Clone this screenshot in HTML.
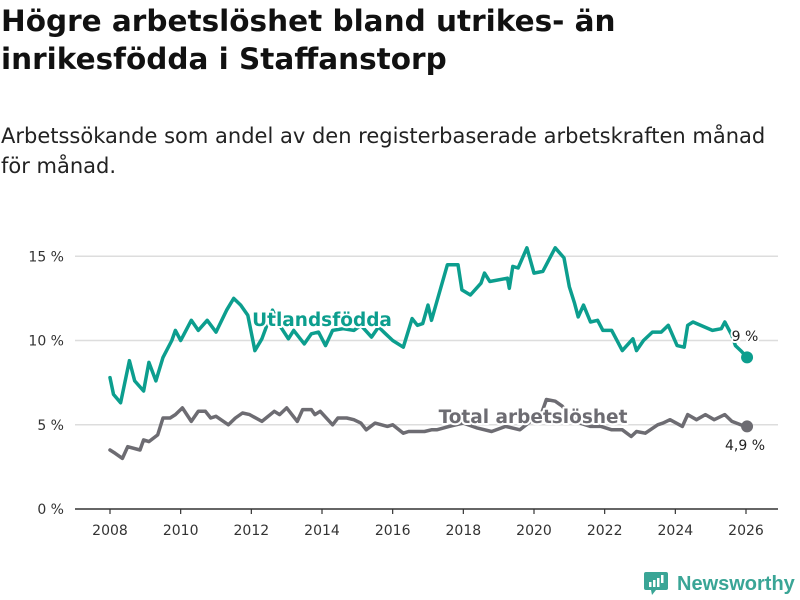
<!DOCTYPE html>
<html><head><meta charset="utf-8"><style>
body{margin:0;background:#fff;font-family:"DejaVu Sans",sans-serif;}
#wrap{position:relative;width:800px;height:600px;overflow:hidden;}
h1{position:absolute;left:1px;top:2px;margin:0;font-size:29.5px;line-height:38px;font-weight:bold;color:#111;}
#sub{position:absolute;left:1px;top:121px;margin:0;font-size:21px;line-height:30px;color:#222;}
svg{position:absolute;left:0;top:0;}
</style></head><body>
<div id="wrap">
<h1>Högre arbetslöshet bland utrikes- än<br>inrikesfödda i Staffanstorp</h1>
<p id="sub">Arbetssökande som andel av den registerbaserade arbetskraften månad<br>för månad.</p>
<svg id="chart" width="800" height="600"></svg>
</div>
<script>
const yTicks=[0,5,10,15];
const yTickLabels=["0 %","5 %","10 %","15 %"];
const xTicks=[2008,2010,2012,2014,2016,2018,2020,2022,2024,2026];
const foreignT=[2008.0,2008.1,2008.3,2008.55,2008.7,2008.95,2009.1,2009.3,2009.5,2009.75,2009.85,2010.0,2010.1,2010.3,2010.5,2010.75,2011.0,2011.3,2011.5,2011.7,2011.9,2012.1,2012.3,2012.6,2012.8,2013.05,2013.2,2013.5,2013.7,2013.9,2014.1,2014.3,2014.6,2014.9,2015.1,2015.4,2015.6,2015.8,2016.0,2016.3,2016.55,2016.7,2016.85,2017.0,2017.1,2017.25,2017.55,2017.85,2017.96,2018.2,2018.5,2018.6,2018.75,2019.25,2019.3,2019.4,2019.55,2019.8,2020.0,2020.25,2020.4,2020.6,2020.85,2021.0,2021.15,2021.25,2021.4,2021.6,2021.8,2021.95,2022.2,2022.5,2022.8,2022.9,2023.1,2023.35,2023.6,2023.8,2024.05,2024.25,2024.35,2024.5,2025.05,2025.3,2025.4,2025.6,2025.7,2025.85,2026.03];
const foreignV=[7.8,6.8,6.3,8.8,7.6,7.0,8.7,7.6,9.0,10.0,10.6,10.0,10.4,11.2,10.6,11.2,10.5,11.8,12.5,12.1,11.5,9.4,10.1,11.8,10.9,10.1,10.6,9.8,10.4,10.5,9.7,10.6,10.7,10.6,10.9,10.2,10.8,10.4,10.0,9.6,11.3,10.9,11.0,12.1,11.2,12.3,14.5,14.5,13.0,12.7,13.4,14.0,13.5,13.7,13.1,14.4,14.3,15.5,14.0,14.1,14.7,15.5,14.9,13.2,12.2,11.4,12.1,11.1,11.2,10.6,10.6,9.4,10.1,9.4,10.0,10.5,10.5,10.9,9.7,9.6,10.9,11.1,10.6,10.7,11.1,10.3,9.7,9.4,9.0];
const totalT=[2008.0,2008.15,2008.35,2008.5,2008.85,2008.95,2009.1,2009.35,2009.5,2009.7,2009.85,2010.05,2010.3,2010.5,2010.7,2010.85,2011.0,2011.35,2011.55,2011.75,2011.95,2012.3,2012.65,2012.8,2013.0,2013.3,2013.45,2013.7,2013.8,2013.95,2014.3,2014.45,2014.7,2014.9,2015.1,2015.25,2015.5,2015.85,2016.0,2016.3,2016.45,2016.9,2017.1,2017.25,2017.6,2018.0,2018.4,2018.8,2019.2,2019.6,2019.9,2020.2,2020.35,2020.6,2020.8,2021.0,2021.3,2021.6,2021.9,2022.2,2022.5,2022.75,2022.9,2023.15,2023.5,2023.65,2023.85,2024.2,2024.35,2024.6,2024.85,2025.1,2025.4,2025.6,2025.85,2026.03];
const totalV=[3.5,3.3,3.0,3.7,3.5,4.1,4.0,4.4,5.4,5.4,5.6,6.0,5.2,5.8,5.8,5.4,5.5,5.0,5.4,5.7,5.6,5.2,5.8,5.6,6.0,5.2,5.9,5.9,5.6,5.8,5.0,5.4,5.4,5.3,5.1,4.7,5.1,4.9,5.0,4.5,4.6,4.6,4.7,4.7,4.9,5.1,4.8,4.6,4.9,4.7,5.2,5.6,6.5,6.4,6.1,5.6,5.1,4.9,4.9,4.7,4.7,4.3,4.6,4.5,5.0,5.1,5.3,4.9,5.6,5.3,5.6,5.3,5.6,5.2,5.0,4.9];

const svg=document.getElementById('chart');
const NS='http://www.w3.org/2000/svg';
const FF='DejaVu Sans, sans-serif';
const X0=110,X1=746,Y0=509,YPER=16.85;
function xs(t){return X0+(t-2008)*(X1-X0)/18;}
function ys(v){return Y0-v*YPER;}
function mk(tag,attrs,parent){const e=document.createElementNS(NS,tag);for(const k in attrs)e.setAttribute(k,attrs[k]);(parent||svg).appendChild(e);return e;}

yTicks.forEach((v,i)=>{
  if(v>0){const g=mk('line',{x1:75,x2:778,y1:ys(v),y2:ys(v),stroke:'#dddddd','stroke-width':1.5});
  
  }
  const t=mk('text',{x:64,y:ys(v)+5,'text-anchor':'end','font-size':14,fill:'#333','font-family':FF});
  t.textContent=yTickLabels[i];
  
  
});
const ax=mk('line',{x1:75,x2:778,y1:Y0,y2:Y0,stroke:'#333','stroke-width':1.5});


xTicks.forEach(yr=>{
  const tk=mk('line',{x1:xs(yr),x2:xs(yr),y1:Y0,y2:Y0+5,stroke:'#333','stroke-width':1.2});
  
  
  const t=mk('text',{x:xs(yr),y:535,'text-anchor':'middle','font-size':14,fill:'#333','font-family':FF});
  t.textContent=yr;
  
  
});
function line(T,V,color,name){
  const d=T.map((t,i)=>(i?'L':'M')+xs(t).toFixed(1)+','+ys(V[i]).toFixed(1)).join('');
  const p=mk('path',{d:d,fill:'none',stroke:color,'stroke-width':3.5,'stroke-linejoin':'round','stroke-linecap':'round'});
  
  
  const n=T.length-1;
  const c=mk('circle',{cx:xs(T[n]),cy:ys(V[n]),r:6,fill:color});
  
  
}
line(totalT,totalV,'#6d6c72','total-line');
line(foreignT,foreignV,'#0c9e8e','foreign-born-line');
function label(x,y,txt,color,size,weight,anchor,name){
  const t=mk('text',{x:x,y:y,'text-anchor':anchor,'font-size':size,'font-weight':weight,fill:color,stroke:'#fff','stroke-width':4,'paint-order':'stroke','stroke-linejoin':'round','font-family':FF});
  t.textContent=txt;
  
  
}
label(322,326,'Utlandsfödda','#0c9e8e',18.5,'bold','middle','foreign-born-label');
label(533,423,'Total arbetslöshet','#6d6c72',18.5,'bold','middle','total-label');
label(745,341,'9 %','#222',14,'normal','middle','foreign-born-value-label');
label(745,450,'4,9 %','#222',14,'normal','middle','total-value-label');

const lg=mk('g',{});


mk('path',{d:'M646,572 h20 a2,2 0 0 1 2,2 v14 a2,2 0 0 1 -2,2 h-10 l-4,5 l-1,-5 h-5 a2,2 0 0 1 -2,-2 v-14 a2,2 0 0 1 2,-2z',fill:'#3aa596'},lg);
mk('rect',{x:649,y:582,width:2.5,height:5,fill:'#fff'},lg);
mk('rect',{x:653,y:580,width:2.5,height:7,fill:'#fff'},lg);
mk('rect',{x:657,y:578,width:2.5,height:9,fill:'#fff'},lg);
mk('rect',{x:661,y:575,width:2.5,height:8,fill:'#fff'},lg);
const lt=mk('text',{x:677,y:590,'font-size':20,'font-weight':'bold',fill:'#3aa596','font-family':'Liberation Sans, sans-serif'},lg);
lt.textContent='Newsworthy';
</script>
</body></html>
